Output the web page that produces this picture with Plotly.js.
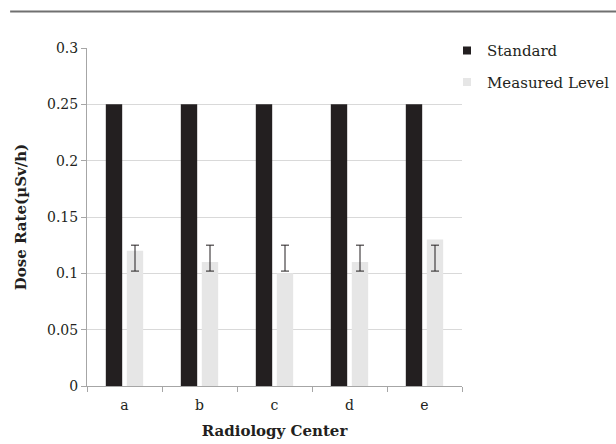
<!DOCTYPE html>
<html><head><meta charset="utf-8">
<script src="https://cdn.plot.ly/plotly-3.0.1.min.js"></script>
<style>html,body{margin:0;padding:0;background:#fff}#chart{width:616px;height:444px}</style>
</head><body><div id="chart"></div>
<script>
var centers = ['a','b','c','d','e'];
var standard = [0.25,0.25,0.25,0.25,0.25];
var measured = [0.12,0.11,0.10,0.11,0.13];
var errLow = [0.102,0.102,0.102,0.102,0.102];
var errHigh = [0.125,0.125,0.125,0.125,0.125];
var yTicks = [0,0.05,0.1,0.15,0.2,0.25,0.3];
var yTickText = ['0','0.05','0.1','0.15','0.2','0.25','0.3'];
var seriesNames = ['Standard','Measured Level'];
var seriesColors = ['#231f20','#e6e6e6'];

var plus = measured.map(function(v,i){return errHigh[i]-v;});
var minus = measured.map(function(v,i){return v-errLow[i];});
var F = 'DejaVu Serif, serif';

var traces = [
  {type:'bar', name:seriesNames[0], x:centers, y:standard, marker:{color:seriesColors[0]}, showlegend:false},
  {type:'bar', name:seriesNames[1], x:centers, y:measured, marker:{color:seriesColors[1]}, showlegend:false,
   error_y:{type:'data', symmetric:false, array:plus, arrayminus:minus, color:'#231f20', thickness:1, width:4}},
  {type:'scatter', mode:'markers', name:seriesNames[0], x:[null], y:[null], legendgroup:'s',
   marker:{symbol:'square', size:8, color:seriesColors[0]}},
  {type:'scatter', mode:'markers', name:seriesNames[1], x:[null], y:[null], legendgroup:'m',
   marker:{symbol:'square', size:8, color:seriesColors[1]}}
];
var layout = {
  width:616, height:444,
  margin:{l:87, r:154, t:48, b:58, autoexpand:false},
  paper_bgcolor:'#fff', plot_bgcolor:'#fff',
  font:{family:F, size:14, color:'#231f20'},
  barmode:'group', bargap:0.44, bargroupgap:0.22,
  showlegend:true,
  legend:{x:0.96, xanchor:'left', y:1.041, yanchor:'top', traceorder:'grouped', tracegroupgap:9,
          bgcolor:'rgba(0,0,0,0)', font:{family:F, size:15, color:'#231f20'}, itemwidth:30},
  xaxis:{type:'category', showline:true, linecolor:'#a6a6a6', linewidth:1, ticks:'outside', tickson:'boundaries',
         ticklen:5, tickcolor:'#a6a6a6', showgrid:false, tickfont:{family:F,size:14}, ticklabelstandoff:6,
         title:{text:'<b>Radiology Center</b>', font:{family:F,size:15}, standoff:13}},
  yaxis:{range:[0,0.3], tickvals:yTicks, ticktext:yTickText, showline:true, linecolor:'#a6a6a6', linewidth:1,
         ticks:'outside', ticklen:5, tickcolor:'#a6a6a6', showgrid:true, gridcolor:'#d9d9d9', gridwidth:1,
         zeroline:false, tickfont:{family:F,size:14},
         title:{text:'<b>Dose Rate(µSv/h)</b>', font:{family:F,size:15}, standoff:16}},
  shapes:[{type:'line', xref:'paper', yref:'paper', x0:-0.205, x1:1.42, y0:1.108, y1:1.108,
           line:{color:'#707070', width:2}}]
};
Plotly.newPlot('chart', traces, layout, {displayModeBar:false, staticPlot:true});
</script></body></html>
